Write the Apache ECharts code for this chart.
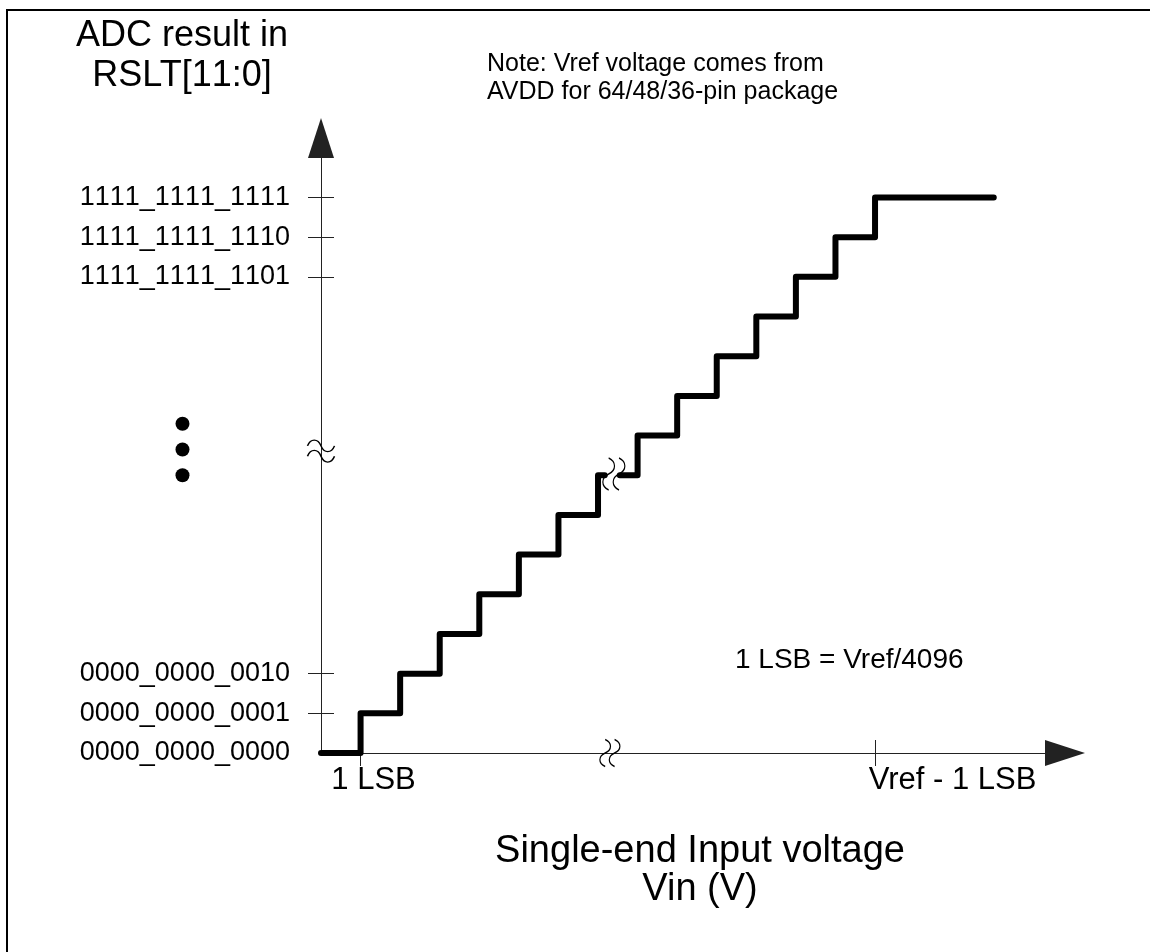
<!DOCTYPE html>
<html>
<head>
<meta charset="utf-8">
<title>ADC transfer curve</title>
<script src="https://cdn.jsdelivr.net/npm/echarts@6.0.0/dist/echarts.min.js"></script>
<style>
  html, body { margin: 0; padding: 0; background: #fff; }
  #main { width: 1150px; height: 952px; }
</style>
</head>
<body>
<div id="main"></div>
<script>
// staircase, x unit = 1 LSB, y unit = 1 code
var lowX = [0, 1, 2, 3, 4, 5, 6, 7, 7.17];
var lowY = [0, 1, 2, 3, 4, 5, 6, 7, 7];
var highX = [7.55, 8, 9, 10, 11, 12, 13, 14, 17];
var highY = [7, 8, 9, 10, 11, 12, 13, 14, 14];

// axis ticks / labels
var yTickValues = [0, 1, 2, 12, 13, 14];
var yTickLabels = ['0000_0000_0000', '0000_0000_0001', '0000_0000_0010',
                   '1111_1111_1101', '1111_1111_1110', '1111_1111_1111'];
var yTickMarks = [1, 2, 12, 13, 14];
var xTickValues = [1, 14];
var xTickLabels = ['1 LSB', 'Vref - 1 LSB'];

// vertical ellipsis left of the axis
var dotX = [-3.5, -3.5, -3.5];
var dotY = [8.3, 7.65, 7.0];

// break marks
var yBreak = [0, 7.61];
var xBreak = [7.3, 0];
var stepBreak = [7.4, 7.03];

function pairs(xs, ys) {
  var out = [];
  for (var i = 0; i < xs.length; i++) out.push([xs[i], ys[i]]);
  return out;
}

// one rich token per char, so the canvas does not kern "11"
function noKern(s) {
  return s.split('').map(function (ch) { return '{c|' + ch + '}'; }).join('');
}

var FONT = 'Liberation Sans, Arial, sans-serif';
var AXIS_COLOR = '#222';
var hWave = 'path://M0,6 C3,0 10,0 13,6 C16,12 23,12 26,6 M0,14 C3,8 10,8 13,14 C16,20 23,20 26,14';
var vWave = 'path://M6,0 C12,3 12,10 6,13 C0,16 0,23 6,26 M14,0 C20,3 20,10 14,13 C8,16 8,23 14,26';

var myChart = echarts.init(document.getElementById('main'));

var option = {
  animation: false,
  backgroundColor: '#fff',
  grid: { left: 321, right: 85, top: 138, bottom: 199 },
  xAxis: [{
    type: 'value', min: 0, max: 18.8,
    axisLine: {
      onZero: false,
      symbol: ['none', 'triangle'], symbolSize: [26, 40],
      lineStyle: { color: AXIS_COLOR, width: 1 }
    },
    axisTick: { show: true, customValues: xTickValues, length: 13, lineStyle: { color: AXIS_COLOR } },
    axisLabel: {
      customValues: xTickValues, margin: 12,
      color: '#000', fontFamily: FONT, fontSize: 31,
      formatter: function (v) {
        var i = xTickValues.indexOf(v);
        return i === 0 ? '{a|' + xTickLabels[i] + '}' : '{b|' + xTickLabels[i] + '}';
      },
      rich: {
        a: { fontFamily: FONT, fontSize: 31, color: '#000', padding: [0, 0, 0, 26] },
        b: { fontFamily: FONT, fontSize: 31, color: '#000', padding: [0, 0, 0, 155] }
      }
    },
    splitLine: { show: false },
    name: 'Single-end Input voltage\nVin (V)',
    nameLocation: 'middle', nameGap: 80,
    nameTextStyle: { color: '#000', fontFamily: FONT, fontSize: 38, lineHeight: 38, padding: [0, 0, 0, 14] }
  }, {
    // second axis only for the upper half of the crossing ticks
    type: 'value', min: 0, max: 18.8, position: 'bottom',
    axisLine: { show: false },
    axisTick: { show: true, inside: true, customValues: xTickValues, length: 13, lineStyle: { color: AXIS_COLOR } },
    axisLabel: { show: false },
    splitLine: { show: false }
  }],
  yAxis: [{
    type: 'value', min: 0, max: 15.5,
    axisLine: {
      show: true, onZero: false,
      symbol: ['none', 'triangle'], symbolSize: [26, 40],
      lineStyle: { color: AXIS_COLOR, width: 1 }
    },
    axisTick: { show: true, customValues: yTickMarks, length: 13, lineStyle: { color: AXIS_COLOR } },
    axisLabel: {
      customValues: yTickValues, margin: 31,
      color: '#000', fontFamily: FONT, fontSize: 27,
      formatter: function (v) { return noKern(yTickLabels[yTickValues.indexOf(v)]); },
      rich: { c: { fontFamily: FONT, fontSize: 27, color: '#000' } }
    },
    splitLine: { show: false }
  }, {
    type: 'value', min: 0, max: 15.5, position: 'left',
    axisLine: { show: false },
    axisTick: { show: true, inside: true, customValues: yTickMarks, length: 13, lineStyle: { color: AXIS_COLOR } },
    axisLabel: { show: false },
    splitLine: { show: false }
  }],
  series: [{
    type: 'line', step: 'end', data: pairs(lowX, lowY),
    symbol: 'none', silent: true,
    lineStyle: { color: '#000', width: 6, cap: 'round', join: 'round' }
  }, {
    type: 'line', step: 'end', data: pairs(highX, highY),
    symbol: 'none', silent: true,
    lineStyle: { color: '#000', width: 6, cap: 'round', join: 'round' }
  }, {
    type: 'scatter', data: pairs(dotX, dotY), clip: false, silent: true,
    symbol: 'circle', symbolSize: 14, itemStyle: { color: '#000', opacity: 1 }
  }, {
    type: 'scatter', data: [yBreak], clip: false, silent: true,
    symbol: hWave, symbolSize: [27, 22],
    itemStyle: { color: 'rgba(0,0,0,0)', borderColor: '#000', borderWidth: 1.4, opacity: 1 }
  }, {
    type: 'scatter', data: [xBreak], clip: false, silent: true,
    symbol: vWave, symbolSize: [20, 27],
    itemStyle: { color: 'rgba(0,0,0,0)', borderColor: '#000', borderWidth: 1.4, opacity: 1 }
  }, {
    type: 'scatter', data: [stepBreak], clip: false, silent: true,
    symbol: vWave, symbolSize: [22, 32],
    itemStyle: { color: 'rgba(0,0,0,0)', borderColor: '#000', borderWidth: 1.4, opacity: 1 }
  }],
  graphic: [{
    type: 'rect', silent: true, z: -10,
    shape: { x: 7, y: 10, width: 1200, height: 1000 },
    style: { fill: 'none', stroke: '#000', lineWidth: 2 }
  }, {
    type: 'text', x: 182, y: 56, silent: true,
    style: {
      text: 'ADC result in\nRSLT[' + noKern('11') + ':0]', fill: '#000',
      font: '36px ' + FONT, fontSize: 36, fontFamily: FONT,
      rich: { c: { fontSize: 36, fontFamily: FONT, fill: '#000' } },
      align: 'center', verticalAlign: 'middle', textAlign: 'center', textVerticalAlign: 'middle', lineHeight: 40
    }
  }, {
    type: 'text', x: 487, y: 78, silent: true,
    style: {
      text: 'Note: Vref voltage comes from\nAVDD for 64/48/36-pin package', font: '25px ' + FONT, fill: '#000',
      align: 'left', verticalAlign: 'middle', textAlign: 'left', textVerticalAlign: 'middle', lineHeight: 28
    }
  }, {
    type: 'text', x: 735, y: 660, silent: true,
    style: {
      text: '1 LSB = Vref/4096', font: '28px ' + FONT, fill: '#000',
      align: 'left', verticalAlign: 'middle', textAlign: 'left', textVerticalAlign: 'middle'
    }
  }]
};

myChart.setOption(option);
</script>
</body>
</html>
